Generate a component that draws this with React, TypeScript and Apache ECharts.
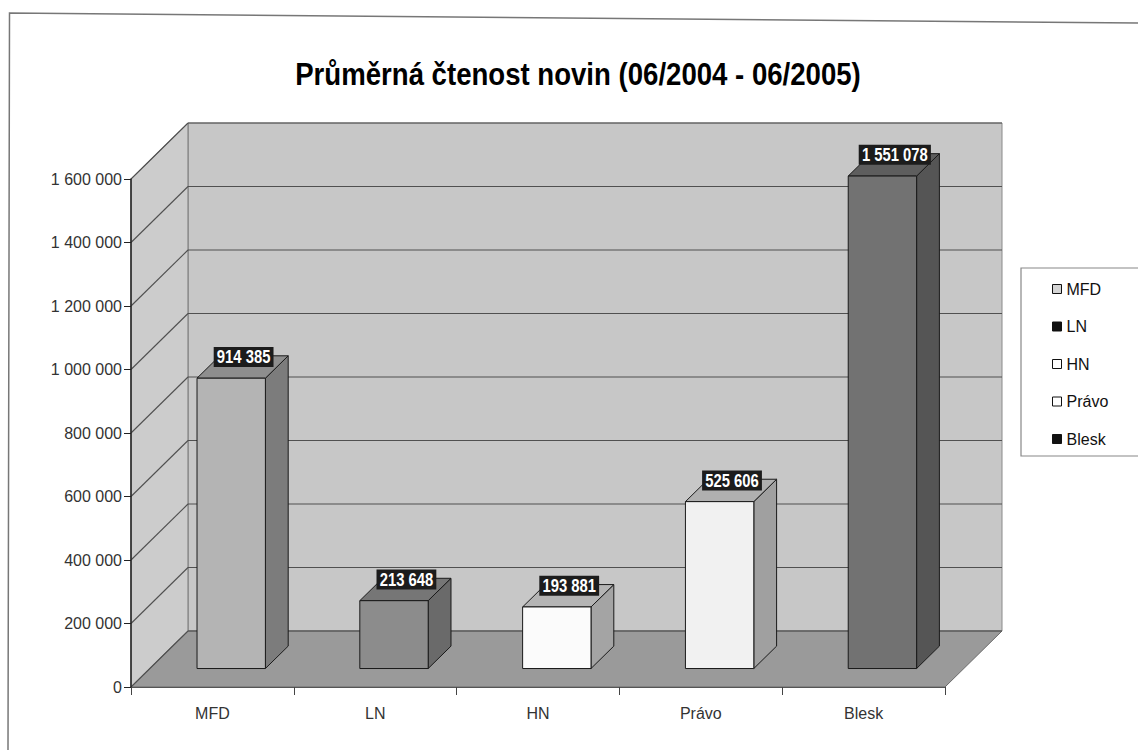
import React, { useEffect, useRef } from "react";
import * as echarts from "echarts";

const categories = ["MFD", "LN", "HN", "Právo", "Blesk"];
const readership = [914385, 213648, 193881, 525606, 1551078];
const yTicks = [0, 200000, 400000, 600000, 800000, 1000000, 1200000, 1400000, 1600000];
const titleText = "Průměrná čtenost novin (06/2004 - 06/2005)";

const frontColors = ["#b4b4b4", "#8c8c8c", "#fbfbfb", "#f1f1f1", "#727272"];
const topColors = ["#8e8e8e", "#767676", "#b4b4b4", "#b0b0b0", "#5e5e5e"];
const sideColors = ["#7c7c7c", "#6a6a6a", "#a4a4a4", "#a0a0a0", "#555555"];
const legendColors = ["#d4d4d4", "#111111", "#ffffff", "#ffffff", "#111111"];

const SANS = "'Liberation Sans', Arial, sans-serif";

const DX = 57;
const DY = -56;
const T0 = 0.33;
const TD = 0.4;

const fmt = (v: number) => String(v).replace(/\B(?=(\d{3})+(?!\d))/g, " ");

export default function App() {
  const ref = useRef<HTMLDivElement>(null);
  useEffect(() => {
    document.body.style.margin = "0";
    document.body.style.background = "#ffffff";
    const chart = echarts.init(ref.current!, null, { renderer: "svg" });

    const wallSeries: any = {
      type: "custom",
      name: "walls",
      silent: true,
      clip: false,
      z: 1,
      data: yTicks.map((v) => [0, v]),
      renderItem: (params: any, api: any) => {
        const cs = params.coordSys;
        const y = api.coord([0, api.value(1)])[1];
        const x0 = cs.x, x1 = cs.x + cs.width, yT = cs.y, yB = cs.y + cs.height;
        const children: any[] = [];
        if (params.dataIndex === 0) {
          children.push({
            type: "polygon",
            shape: { points: [[x0 + DX, yT + DY], [x1 + DX, yT + DY], [x1 + DX, yB + DY], [x0 + DX, yB + DY]] },
            style: { fill: "#c7c7c7", stroke: "#8a8a8a", lineWidth: 1 },
          });
          children.push({
            type: "polygon",
            shape: { points: [[x0, yB], [x0, yT], [x0 + DX, yT + DY], [x0 + DX, yB + DY]] },
            style: { fill: "#cccccc", stroke: "#777", lineWidth: 1 },
          });
          children.push({
            type: "polygon",
            shape: { points: [[x0, yB], [x1, yB], [x1 + DX, yB + DY], [x0 + DX, yB + DY]] },
            style: { fill: "#9a9a9a", stroke: "#6a6a6a", lineWidth: 1 },
          });
        }
        children.push({
          type: "line",
          shape: { x1: x0 + DX, y1: y + DY, x2: x1 + DX, y2: y + DY },
          style: { stroke: "#505050", lineWidth: 1.1 },
        });
        children.push({
          type: "line",
          shape: { x1: x0, y1: y, x2: x0 + DX, y2: y + DY },
          style: { stroke: "#505050", lineWidth: 1.1 },
        });
        return { type: "group", children };
      },
    };

    const barSeries = categories.map((name, i) => ({
      type: "custom",
      name,
      clip: false,
      z: 3,
      itemStyle: { color: legendColors[i] },
      data: [[i, readership[i]]],
      renderItem: (params: any, api: any) => {
        const ci = api.value(0);
        const v = api.value(1);
        const base = api.coord([ci, 0]);
        const topP = api.coord([ci, v]);
        const band = api.size([1, 0])[0];
        const bw = band * 0.42;
        const ox = T0 * DX, oy = T0 * DY, bx = TD * DX, by = TD * DY;
        const fl = base[0] + ox - bw / 2;
        const fr = fl + bw;
        const fb = base[1] + oy;
        const ft = topP[1] + oy;
        const stroke = { stroke: "#1a1a1a", lineWidth: 1 };
        return {
          type: "group",
          children: [
            {
              type: "polygon",
              shape: { points: [[fr, ft], [fr + bx, ft + by], [fr + bx, fb + by], [fr, fb]] },
              style: { fill: sideColors[i], ...stroke },
            },
            {
              type: "polygon",
              shape: { points: [[fl, ft], [fr, ft], [fr + bx, ft + by], [fl + bx, ft + by]] },
              style: { fill: topColors[i], ...stroke },
            },
            {
              type: "rect",
              shape: { x: fl, y: ft, width: bw, height: fb - ft },
              style: { fill: frontColors[i], ...stroke },
            },
            {
              type: "text",
              x: (fl + fr) / 2 + bx / 2 + 1,
              y: ft + by / 2 - 10,
              scaleX: 0.78,
              z2: 10,
              style: {
                text: fmt(v),
                fill: "#ffffff",
                font: `bold 19px ${SANS}`,
                align: "center",
                verticalAlign: "middle",
                backgroundColor: "#1c1c1c",
                padding: [1, 4, 0, 4],
              },
            },
          ],
        };
      },
    }));

    chart.setOption({
      animation: false,
      backgroundColor: "#ffffff",
      grid: { left: 131, top: 179, width: 814, height: 508, containLabel: false },
      xAxis: {
        type: "category",
        data: categories,
        boundaryGap: true,
        z: 10,
        axisLine: { show: true, lineStyle: { color: "#555", width: 1 } },
        axisTick: { show: true, length: 8, lineStyle: { color: "#444" } },
        axisLabel: { fontFamily: SANS, fontSize: 16, color: "#333", margin: 18 },
        splitLine: { show: false },
      },
      yAxis: {
        type: "value",
        min: 0,
        max: 1600000,
        interval: 200000,
        z: 10,
        axisLine: { show: true, lineStyle: { color: "#222", width: 1.5 } },
        axisTick: { show: true, length: 7, lineStyle: { color: "#222" } },
        axisLabel: { formatter: (v: number) => fmt(v), fontFamily: SANS, fontSize: 16, color: "#333", margin: 9 },
        splitLine: { show: false },
      },
      legend: {
        orient: "vertical",
        left: 1047,
        top: 274,
        itemWidth: 9,
        itemHeight: 9,
        itemGap: 17.5,
        icon: "rect",
        selectedMode: false,
        z: 6,
        textStyle: { fontFamily: SANS, fontSize: 16, color: "#111", lineHeight: 20 },
        data: categories.map((c, i) => ({
          name: c,
          itemStyle: { color: legendColors[i], borderColor: "#111", borderWidth: 1 },
        })),
      },
      graphic: [
        {
          type: "polyline",
          z: 0,
          shape: { points: [[8, 750], [9.5, 13], [1138, 23]] },
          style: { stroke: "#777", lineWidth: 1.5, fill: null },
        },
        {
          type: "rect",
          z: 1,
          shape: { x: 1021, y: 268, width: 130, height: 188 },
          style: { fill: "#ffffff", stroke: "#888", lineWidth: 1.2 },
        },
        {
          type: "text",
          z: 5,
          x: 578,
          y: 74,
          scaleX: 0.89,
          style: {
            text: titleText,
            font: `bold 31px ${SANS}`,
            fill: "#000",
            align: "center",
            verticalAlign: "middle",
          },
        },
      ],
      series: [wallSeries, ...barSeries],
    });
    return () => chart.dispose();
  }, []);
  return <div ref={ref} style={{ width: 1138, height: 750, overflow: "hidden" }} />;
}
